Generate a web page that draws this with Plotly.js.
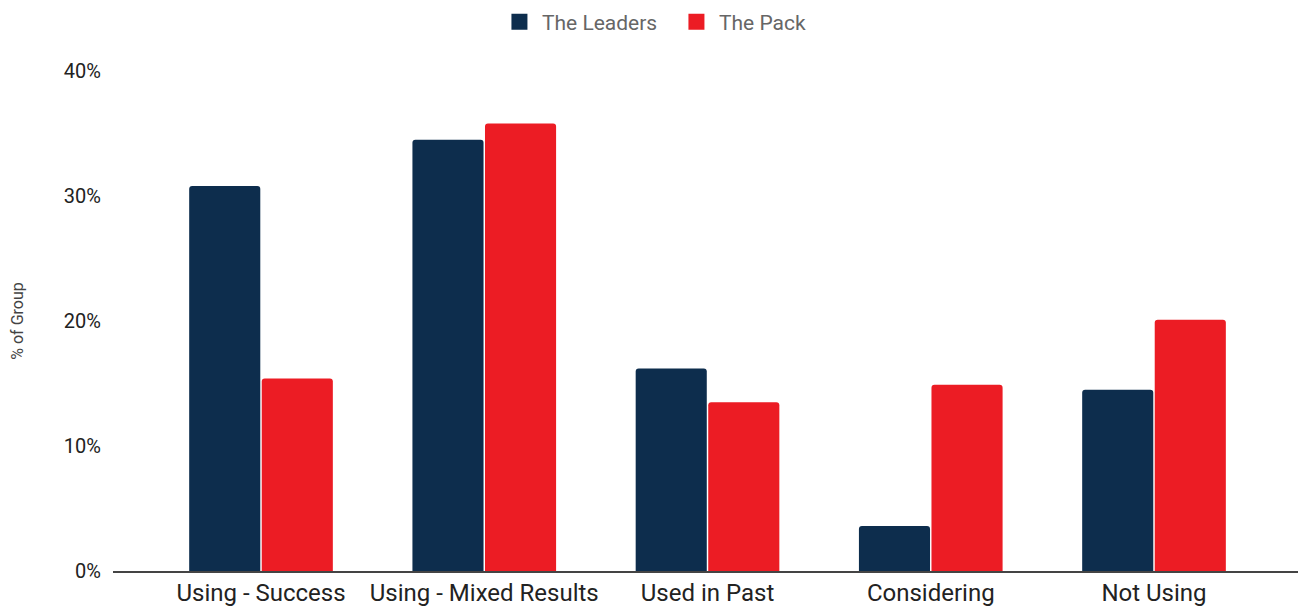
<!DOCTYPE html>
<html>
<head>
<meta charset="utf-8">
<script src="https://cdn.plot.ly/plotly-3.0.1.min.js"></script>
<style>html,body{margin:0;padding:0;background:#fff;}#chart{width:1298px;height:607px;}</style>
</head>
<body>
<div id="chart"></div>
<script>
const categories = ["Using - Success", "Using - Mixed Results", "Used in Past", "Considering", "Not Using"];
const leaders = [30.8, 34.5, 16.2, 3.6, 14.5];
const pack = [15.4, 35.8, 13.5, 14.9, 20.1];
const seriesNames = ["The Leaders", "The Pack"];
const seriesColors = ["#0d2d4d", "#ec1c24"];
const yTicks = [0, 10, 20, 30, 40];
const yTickLabels = ["0%", "10%", "20%", "30%", "40%"];

const traces = [
  {type: "bar", name: seriesNames[0], x: categories, y: leaders, marker: {color: seriesColors[0]}, hoverinfo: "none", showlegend: false},
  {type: "bar", name: seriesNames[1], x: categories, y: pack, marker: {color: seriesColors[1]}, hoverinfo: "none", showlegend: false},
  // legend-only entries with larger square symbols
  {type: "scatter", mode: "markers", name: seriesNames[0], x: [null], y: [null], marker: {symbol: "square", size: 16, color: seriesColors[0]}, hoverinfo: "none"},
  {type: "scatter", mode: "markers", name: seriesNames[1], x: [null], y: [null], marker: {symbol: "square", size: 16, color: seriesColors[1]}, hoverinfo: "none"}
];

const layout = {
  width: 1298, height: 607,
  margin: {l: 113, r: 0, t: 71, b: 36, autoexpand: false},
  paper_bgcolor: "#fff", plot_bgcolor: "#fff",
  font: {family: "Roboto, sans-serif", color: "#222"},
  barmode: "group", bargap: 0.35, bargroupgap: 0.02, barcornerradius: 3,
  showlegend: true,
  legend: {orientation: "h", x: 0.324, xanchor: "left", y: 1.098, yanchor: "middle",
           font: {size: 21, color: "#666"}, itemwidth: 35, entrywidth: 127, traceorder: "normal"},
  xaxis: {type: "category", range: [-0.663, 4.645], showline: true, linecolor: "#444", linewidth: 1.5,
          showgrid: false, zeroline: false, ticks: "", tickfont: {size: 24, color: "#222"},
          ticklabelstandoff: 0},
  yaxis: {range: [0, 40], tickvals: yTicks, ticktext: yTickLabels, showgrid: false, zeroline: false,
          showline: false, ticks: "", tickfont: {size: 20, color: "#222"}, ticklabelstandoff: 11,
          title: {text: "% of Group", font: {size: 16, color: "#444"}, standoff: 36}}
};

Plotly.newPlot("chart", traces, layout, {displayModeBar: false, staticPlot: true});
</script>
</body>
</html>
